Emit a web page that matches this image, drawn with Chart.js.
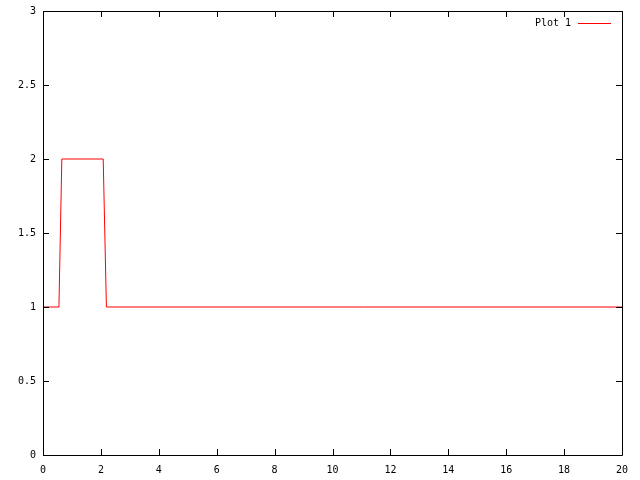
<!DOCTYPE html>
<html>
<head>
<meta charset="utf-8">
<script src="https://cdn.jsdelivr.net/npm/chart.js@4/dist/chart.umd.min.js"></script>
<style>
  html, body { margin: 0; padding: 0; background: #fff; }
  canvas { display: block; }
</style>
</head>
<body>
<canvas id="miGrafico" width="640" height="480"></canvas>
<script>
// data
const xValues = [0, 0.55, 0.65, 2.08, 2.19, 20];
const yValues = [1, 1, 2, 2, 1, 1];
const seriesName = 'Plot 1';
const xTicks = [0, 2, 4, 6, 8, 10, 12, 14, 16, 18, 20];
const yTicks = [0, 0.5, 1, 1.5, 2, 2.5, 3];

const FONT = '10px "DejaVu Sans Mono", monospace';

// inward ticks on all four sides, border, and gnuplot style key
const gnuplotLook = {
    id: 'gnuplotLook',
    afterDraw(chart) {
        const c = chart.ctx;
        const a = chart.chartArea;
        const xs = chart.scales.x, ys = chart.scales.y;
        c.save();
        c.strokeStyle = '#000';
        c.lineWidth = 1;
        c.beginPath();
        c.rect(Math.round(a.left) + 0.5, Math.round(a.top) + 0.5,
               Math.round(a.right - a.left), Math.round(a.bottom - a.top));
        c.stroke();
        const len = 6;
        c.beginPath();
        xTicks.forEach(v => {
            const px = Math.round(xs.getPixelForValue(v)) + 0.5;
            c.moveTo(px, a.bottom); c.lineTo(px, a.bottom - len);
            c.moveTo(px, a.top); c.lineTo(px, a.top + len);
        });
        yTicks.forEach(v => {
            const py = Math.round(ys.getPixelForValue(v)) + 0.5;
            c.moveTo(a.left, py); c.lineTo(a.left + len, py);
            c.moveTo(a.right, py); c.lineTo(a.right - len, py);
        });
        c.stroke();

        // key
        const ds = chart.data.datasets[0];
        c.font = FONT;
        c.fillStyle = '#000';
        c.textAlign = 'right';
        c.textBaseline = 'middle';
        c.fillText(ds.label, 571, 23);
        c.strokeStyle = ds.borderColor;
        c.beginPath();
        c.moveTo(578, 23.5); c.lineTo(611, 23.5);
        c.stroke();
        c.restore();
    }
};

window.addEventListener("load", () => {
    const ctx = document.querySelector('#miGrafico').getContext('2d');

    const miGrafico = new Chart(ctx, {
        type: 'line',
        data: {
            datasets: [{
                label: seriesName,
                data: xValues.map((x, i) => ({ x: x, y: yValues[i] })),
                borderColor: '#ff0000',
                borderWidth: 1,
                pointRadius: 0,
                tension: 0,
                fill: false
            }]
        },
        options: {
            responsive: false,
            animation: false,
            layout: { padding: { top: 11, right: 18, left: 0, bottom: 0 } },
            plugins: {
                legend: { display: false },
                tooltip: { enabled: false }
            },
            scales: {
                x: {
                    type: 'linear',
                    min: 0,
                    max: 20,
                    afterBuildTicks: s => { s.ticks = xTicks.map(v => ({ value: v })); },
                    afterFit: s => { s.height = 25; },
                    grid: { display: false, drawTicks: false },
                    border: { display: false },
                    ticks: {
                        font: { family: '"DejaVu Sans Mono", monospace', size: 10 },
                        color: '#000',
                        padding: 9,
                        maxRotation: 0,
                        callback: v => String(v)
                    }
                },
                y: {
                    type: 'linear',
                    min: 0,
                    max: 3,
                    afterBuildTicks: s => { s.ticks = yTicks.map(v => ({ value: v })); },
                    afterFit: s => { s.width = 43; s.paddingTop = 0; s.paddingBottom = 0; },
                    grid: { display: false, drawTicks: false },
                    border: { display: false },
                    ticks: {
                        font: { family: '"DejaVu Sans Mono", monospace', size: 10 },
                        color: '#000',
                        padding: 7,
                        callback: v => String(v)
                    }
                }
            }
        },
        plugins: [gnuplotLook]
    });
});
</script>
</body>
</html>
